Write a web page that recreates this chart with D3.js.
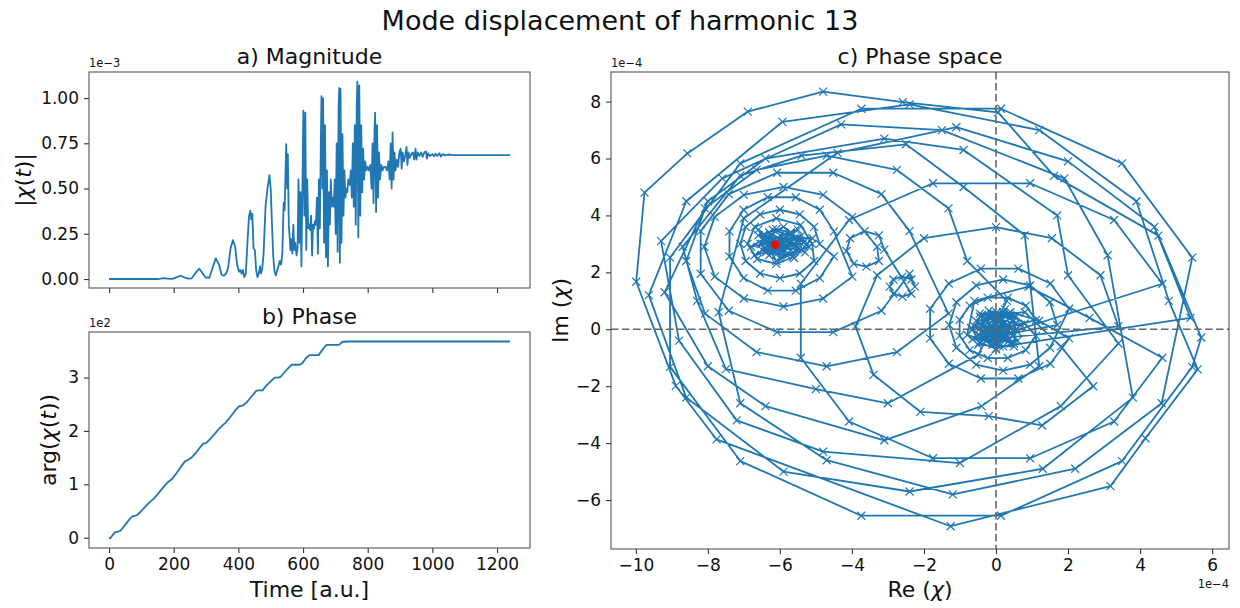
<!DOCTYPE html>
<html>
<head>
<meta charset="utf-8">
<script src="https://cdn.jsdelivr.net/npm/d3@7"></script>
<style>
body { margin: 0; background: #fff; }
svg { display: block; font-family: "DejaVu Sans", sans-serif; }
</style>
</head>
<body>
<svg id="fig" width="1240" height="608"></svg>
<script>
// |chi(t)| in units of 1e-3
var magSeries = [[0,0],[150,0],[160,0.002],[170,0.005],[180,0.002],[195,0.001],[210,0.01],[222,0.018],[234,0.008],[245,0.002],
    [255,0.003],[268,0.035],[279,0.057],[290,0.03],[300,0.006],[305,0.01],[310,0.006],[318,0.05],[330,0.114],[340,0.08],
    [348,0.025],[355,0.018],[362,0.03],[368,0.06],[376,0.17],[383,0.215],[390,0.18],[396,0.08],[402,0.04],[406,0.05],
    [410,0.03],[414,0.05],[418,0.01],[423,0.03],[428,0.2],[433,0.35],[437,0.377],[440,0.33],[443,0.36],[447,0.17],
    [451,0.16],[455,0.05],[459,0.01],[463,0.03],[467,0.07],[470,0.03],[474,0.06],[478,0.14],[484,0.4],[490,0.5],
    [496,0.574],[500,0.5],[504,0.3],[508,0.12],[512,0.04],[516,0.02],[520,0.05],[524,0.07],[528,0.1],[532,0.08],
    [536,0.14],[540,0.42],[543,0.38],[546,0.6],[548,0.745],[551,0.5],[553,0.69],[556,0.3],[558,0.25],[561,0.16],
    [564,0.22],[567,0.14],[570,0.3],[573,0.16],[576,0.2],[580,0.13],[583,0.17],[586,0.55],[589,0.2],[592,0.48],
    [595,0.07],[598,0.5],[601,0.93],[604,0.35],[607,0.92],[610,0.16],[613,0.55],[616,0.28],[619,0.3],[622,0.27],
    [625,0.35],[628,0.13],[631,0.3],[634,0.28],[637,0.32],[640,0.3],[643,0.45],[646,0.14],[649,0.55],[652,0.28],
    [655,0.75],[657,1.01],[660,0.5],[662,1.0],[665,0.2],[668,0.85],[671,0.12],[674,0.6],[677,0.07],[680,0.48],
    [683,0.3],[686,0.55],[689,0.4],[692,0.45],[695,0.4],[698,0.55],[701,0.25],[704,0.75],[707,0.15],[710,0.95],
    [712,1.056],[714,0.09],[716,1.05],[719,0.2],[722,0.8],[725,0.35],[728,0.6],[731,0.45],[734,0.5],[737,0.48],
    [740,0.55],[744,0.52],[748,0.6],[751,0.45],[754,0.75],[757,0.4],[760,0.85],[763,0.3],[766,0.95],[768,1.09],
    [771,0.23],[774,1.07],[777,0.35],[780,0.85],[783,0.48],[786,0.72],[789,0.55],[792,0.65],[796,0.6],[800,0.62],
    [804,0.6],[808,0.63],[812,0.5],[815,0.75],[818,0.42],[821,0.82],[823,0.92],[826,0.37],[829,0.85],[832,0.45],
    [835,0.7],[838,0.55],[842,0.63],[846,0.6],[850,0.62],[855,0.62],[860,0.6],[864,0.65],[868,0.55],[871,0.75],
    [874,0.5],[877,0.81],[880,0.55],[883,0.7],[886,0.6],[890,0.66],[894,0.62],[898,0.7],[902,0.72],[905,0.61],
    [908,0.7],[912,0.65],[916,0.68],[920,0.73],[923,0.63],[926,0.7],[930,0.67],[935,0.69],[940,0.7],[944,0.66],
    [948,0.72],[951,0.66],[955,0.7],[960,0.68],[965,0.7],[970,0.675],[975,0.7],[980,0.705],[983,0.665],[987,0.695],
    [992,0.68],[1000,0.69],[1005,0.678],[1010,0.692],[1015,0.68],[1022,0.695],[1026,0.676],[1032,0.69],[1040,0.683],
    [1050,0.688],[1065,0.685],[1240,0.685]];

// arg(chi(t)) in units of 1e2
var phaseSeries = [[0,0],[4,-0.01],[10,0.04],[18,0.1],[25,0.11],[35,0.13],[50,0.24],[65,0.36],[72,0.4],[80,0.41],
    [88,0.43],[100,0.5],[115,0.6],[128,0.68],[140,0.74],[155,0.85],[170,0.96],[182,1.04],[195,1.1],[210,1.22],
    [225,1.35],[235,1.43],[245,1.46],[255,1.5],[270,1.6],[285,1.72],[292,1.76],[300,1.77],[310,1.83],[325,1.93],
    [340,2.04],[350,2.1],[360,2.15],[375,2.26],[390,2.38],[402,2.46],[415,2.48],[425,2.53],[440,2.64],[455,2.75],
    [462,2.76],[475,2.76],[485,2.84],[500,2.93],[512,3.0],[522,3.0],[530,3.01],[540,3.08],[555,3.18],[565,3.24],
    [575,3.24],[590,3.24],[598,3.27],[610,3.37],[620,3.42],[635,3.42],[648,3.42],[655,3.48],[665,3.56],[673,3.61],
    [690,3.61],[710,3.61],[715,3.63],[722,3.67],[740,3.675],[800,3.675],[1240,3.675]];

// Re/Im of chi in units of 1e-4, in time order
var chiPath = [
    [0,0],[0.07,0.07],[0,0.15],[-0.14,0.14],[-0.22,0],[-0.18,-0.18],[0,-0.28],[0.21,-0.21],[0.33,0],[0.25,0.25],
    [0,0.4],[-0.3,0.3],[-0.45,0.02],[-0.34,-0.34],[0,-0.5],[0.37,-0.37],[0.55,0],[0.41,0.41],[0.02,0.6],[-0.44,0.44],
    [-0.65,0],[-0.47,-0.47],[0,-0.68],[0.5,-0.5],[0.55,0.23],[0.21,0.51],[-0.19,0.46],[-0.42,0.17],[-0.37,-0.15],
    [-0.13,-0.32],[0.11,-0.28],[0.23,-0.1],[0.18,0.08],
    [0.5,0.3],[-0.4,-0.4],[0.2,0.6],[-0.6,0.1],[0.4,-0.5],[-0.2,0.5],[0.6,-0.1],[-0.5,-0.2],[0.1,-0.6],[-0.3,0.4],
    [0.55,0.45],[-0.55,0.3],[0.3,-0.3],[-0.1,-0.55],[0.45,0.1],[-0.35,-0.1],[0.15,0.35],[-0.65,-0.35],[0.6,-0.4],[-0.2,0.65],
    [0.35,0.55],[-0.45,0.55],[0.7,0.15],[-0.7,0.05],[0.0,-0.7],[0.25,0.7],[-0.5,-0.55],[0.5,-0.6],[0.1,0.1],[-0.1,-0.1],
    [1.11,0.33],[0.83,0.83],[0.33,1.11],[-0.23,1.11],[-0.73,0.83],[-1.01,0.33],[-1.01,-0.23],[-0.73,-0.73],
    [-0.23,-1.01],[0.33,-1.01],[0.83,-0.73],[1.11,-0.23],[0.8,0.2],[0.4,0.5],[-0.1,0.45],[-0.35,0.1],[-0.2,-0.25],[0.15,-0.2],
    [1.7,0.15],[1.5,0.95],[0.95,1.54],[0.2,1.75],[-0.55,1.54],[-1.1,0.95],[-1.3,0.15],[-1.1,-0.65],[-0.55,-1.24],
    [0.2,-1.45],[0.95,-1.24],[1.5,-0.65],
    [2.03,0.72],[1.51,1.61],[0.62,2.13],[-0.42,2.13],[-1.31,1.61],[-1.83,0.72],[-1.83,-0.32],[-1.31,-1.21],
    [-0.42,-1.73],[0.62,-1.73],[1.51,-1.21],[2.03,-0.32],[1.2,0.3],[0.4,0.6],[-0.2,0.2],[0.2,-0.3],
    [3.4,0.1],[2.9,1.9],[1.55,3.2],[0,3.59],[-2.0,3.2],[-3.3,1.9],[-3.9,0.1],[-3.4,-1.6],[-2.1,-2.9],[-0.2,-3.05],
    [1.28,-3.38],[2.7,-2.0],[1.8,-0.6],[0.8,0.6],[-0.4,0.5],[-0.3,-0.2],[0.4,-0.1],
    [4.62,1.6],[3.28,3.84],[0.95,5.13],[-1.75,5.13],[-4.08,3.84],[-5.42,1.6],[-5.42,-1.0],[-4.08,-3.24],[-1.75,-4.53],
    [0.95,-4.53],[3.28,-3.24],[4.62,-1.0],[2.6,0.4],[0.9,1.5],[-0.6,1.0],[-0.8,-0.2],[0.2,-0.6],
    [5.4,0.4],[4.4,3.6],[2.0,5.9],[-1.1,7.1],[-4.4,6.2],[-7.0,3.9],[-7.7,0.6],[-7.1,-2.6],[-4.7,-4.6],[-1.2,-5.8],
    [2.2,-4.9],[4.6,-2.6],
    [5.45,2.52],[3.5,5.83],[0.14,7.75],[-3.74,7.75],[-7.1,5.83],[-9.05,2.52],[-9.05,-1.32],[-7.1,-4.63],[-3.74,-6.55],
    [0.14,-6.55],[3.5,-4.63],[5.45,-1.32],
    [5.7,-0.29],[4.51,3.29],[1.61,5.39],[0.06,7.62],[-2.59,7.98],[-4.8,8.35],[-6.89,7.65],[-8.57,6.18],[-9.76,4.8],
    [-9.99,1.67],[-8.89,-1.99],[-7.76,-3.87],[-1.26,-6.92],[3.18,-5.51],[4.15,-3.83],[5.6,-1.41],
    [4.8,1.0],[3.9,4.5],[1.2,7.0],[-2.4,7.9],[-5.93,7.29],[-8.6,4.5],[-9.64,1.2],[-8.6,-2.4],[-5.9,-5.0],[-2.4,-5.7],
    [1.3,-4.9],[3.8,-2.4],
    [3.1,2.6],[1.9,5.3],[-1.5,7.0],[-4.3,7.2],[-7.6,5.3],[-9.3,3.1],[-8.8,-0.4],[-7.2,-3.2],[-4.8,-4.3],
    [-1.0,-4.7],[1.8,-2.7],[3.4,-0.5],
    [2.0,1.9],[1.7,4.0],[-0.9,6.3],[-3.1,6.7],[-6.4,6.0],[-8.0,4.5],[-9.2,1.3],[-8.0,-1.3],[-6.4,-2.7],
    [-3.1,-3.9],[-0.4,-2.7],[1.2,-1.3],
    [0.8,3.3],[-0.9,5.0],[-2.5,6.5],[-5.4,6.1],[-7.1,5.4],[-8.7,2.9],[-8.3,1.0],[-7.5,-1.4],[-5.0,-2.1],
    [-3.0,-2.6],[-0.5,-0.9],[0.3,1.0],
    [-0.8,2.4],[-1.32,4.25],[-2.75,5.6],[-4.7,6.1],[-6.65,5.6],[-8.08,4.25],[-8.6,2.4],[-8.08,0.55],[-6.65,-0.8],
    [-4.7,-1.3],[-2.75,-0.8],[-1.32,0.55],
    [-2.4,3.45],[-3.18,4.75],[-4.52,5.5],[-6.08,5.5],[-7.42,4.75],[-8.2,3.45],[-8.2,1.95],[-7.42,0.65],[-6.08,-0.1],
    [-4.52,-0.1],[-3.18,0.65],[-2.4,1.95],
    [-2.25,1.5],[-2.35,1.75],[-2.6,1.85],[-2.85,1.75],[-2.95,1.5],[-2.85,1.25],[-2.6,1.15],[-2.35,1.25],
    [-3.1,2.8],[-3.25,3.3],[-3.65,3.45],[-4.05,3.2],[-4.15,2.75],[-3.95,2.3],[-3.6,2.2],[-3.25,2.4],[-3.3,2.9],
    [-3.99,3.95],[-4.8,4.72],[-5.9,5.0],[-7.0,4.72],[-7.81,3.95],[-8.1,2.9],[-7.81,1.85],[-7.0,1.08],[-5.9,0.8],
    [-4.8,1.08],[-3.99,1.85],
    [-4.5,3.44],[-4.89,4.2],[-5.56,4.64],[-6.34,4.64],[-7.01,4.2],[-7.4,3.44],[-7.4,2.56],[-7.01,1.8],[-6.34,1.36],
    [-5.56,1.36],[-4.89,1.8],[-4.5,2.56],
    [-4.9,3.0],[-5.05,3.6],[-5.45,4.04],[-6.0,4.2],[-6.55,4.04],[-6.95,3.6],[-7.1,3.0],[-6.95,2.4],[-6.55,1.96],
    [-6.0,1.8],[-5.45,1.96],[-5.05,2.4],
    [-5.1,3.0],[-5.43,3.67],[-6.1,3.9],[-6.7,3.6],[-6.9,3.0],[-6.63,2.47],[-6.1,2.3],[-5.64,2.54],[-5.5,3.0],[-5.7,3.4],
    [-6.1,3.52],[-6.44,3.34],[-6.54,3.0],[-6.38,2.72],[-6.1,2.64],[-5.87,2.77],
    [-5.6,3.2],[-6.4,2.7],[-5.8,2.6],[-6.6,3.3],[-5.3,3.1],[-6.2,3.5],[-6.0,2.5],[-5.5,2.8],[-6.5,3.0],[-5.7,3.4],
    [-6.3,2.6],[-5.4,3.3],[-6.8,2.9],[-5.9,3.6],[-5.2,2.9],[-6.1,2.4],[-6.6,3.5],[-5.6,2.5],[-5.1,3.2],[-6.4,3.2],
    [-5.8,2.9],[-6.7,2.6],[-5.5,3.5],[-6.0,3.3],[-5.3,2.7],[-6.3,3.4],[-5.9,2.7],[-6.5,2.8],[-5.6,3.0],[-6.2,2.8],
    [-5.4,3.0],[-6.0,3.1],[-5.7,2.8],[-6.3,3.0],[-5.9,3.2],[-6.1,2.9],[-5.8,3.1],[-6.2,3.05],[-6.0,2.95],[-6.13,2.97]];
var finalChi = [-6.13, 2.97];

var timeTicks = [0, 200, 400, 600, 800, 1000, 1200];
var magTicks = [0, 0.25, 0.5, 0.75, 1.0];
var phaseTicks = [0, 1, 2, 3];
var reTicks = [-10, -8, -6, -4, -2, 0, 2, 4, 6];
var imTicks = [-6, -4, -2, 0, 2, 4, 6, 8];

var svg = d3.select('#fig');
var blue = '#1f77b4';
var fontFam = '"DejaVu Sans", sans-serif';

svg.append('rect').attr('width', 1240).attr('height', 608).attr('fill', '#fff');

var boxA = {x0: 89, x1: 530, y0: 72, y1: 288};
var boxB = {x0: 89, x1: 530, y0: 332, y1: 548};
var boxC = {x0: 611, x1: 1229, y0: 72, y1: 549};

var xTime = d3.scaleLinear().domain([-62, 1302]).range([boxA.x0, boxA.x1]);
var yMag = d3.scaleLinear().domain([-0.0497, 1.144]).range([boxA.y1, boxA.y0]);
var yPhase = d3.scaleLinear().domain([-0.193, 3.853]).range([boxB.y1, boxB.y0]);
var xRe = d3.scaleLinear().domain([-10.69, 6.47]).range([boxC.x0, boxC.x1]);
var yIm = d3.scaleLinear().domain([-7.72, 9.04]).range([boxC.y1, boxC.y0]);

var defs = svg.append('defs');
function addClip(id, box) {
    defs.append('clipPath').attr('id', id)
        .append('rect')
        .attr('x', box.x0).attr('y', box.y0)
        .attr('width', box.x1 - box.x0).attr('height', box.y1 - box.y0);
}
addClip('clipA', boxA);
addClip('clipB', boxB);
addClip('clipC', boxC);

function styleAxis(g) {
    g.select('.domain').remove();
    g.selectAll('.tick line').attr('stroke', '#333').attr('stroke-width', 1.1);
    g.selectAll('.tick text').attr('font-size', 17).attr('fill', '#111').attr('font-family', fontFam);
}

function drawFrame(box) {
    svg.append('rect')
        .attr('x', box.x0).attr('y', box.y0)
        .attr('width', box.x1 - box.x0).attr('height', box.y1 - box.y0)
        .attr('fill', 'none')
        .attr('stroke', '#555')
        .attr('stroke-width', 1.1);
}

function plainText(x, y, str, size, anchor) {
    svg.append('text')
        .attr('x', x).attr('y', y)
        .attr('font-size', size)
        .attr('font-family', fontFam)
        .attr('text-anchor', anchor || 'middle')
        .attr('fill', '#111')
        .text(str);
}

// parts: [text, italic]
function mathText(x, y, parts, size, rotate) {
    var t = svg.append('text')
        .attr('font-size', size)
        .attr('font-family', fontFam)
        .attr('text-anchor', 'middle')
        .attr('fill', '#111');
    if (rotate) {
        t.attr('transform', 'translate(' + x + ',' + y + ') rotate(-90)');
    } else {
        t.attr('x', x).attr('y', y);
    }
    parts.forEach(p => {
        t.append('tspan').text(p[0]).attr('font-style', p[1] ? 'italic' : 'normal');
    });
}

// ---- panel a: magnitude
svg.append('path')
    .datum(magSeries)
    .attr('clip-path', 'url(#clipA)')
    .attr('fill', 'none')
    .attr('stroke', blue)
    .attr('stroke-width', 1.8)
    .attr('stroke-linejoin', 'round')
    .attr('d', d3.line().x(d => xTime(d[0])).y(d => yMag(d[1])));

svg.append('g')
    .attr('transform', 'translate(' + boxA.x0 + ',0)')
    .call(d3.axisLeft(yMag).tickValues(magTicks).tickFormat(d3.format('.2f')).tickSize(5).tickPadding(5))
    .call(styleAxis);
svg.append('g')
    .attr('transform', 'translate(0,' + boxA.y1 + ')')
    .call(d3.axisBottom(xTime).tickValues(timeTicks).tickFormat('').tickSize(5))
    .call(styleAxis);
drawFrame(boxA);
plainText((boxA.x0 + boxA.x1) / 2, 64, 'a) Magnitude', 22);
plainText(boxA.x0, 67, '1e\u22123', 11.5, 'start');
mathText(31, (boxA.y0 + boxA.y1) / 2, [['|', false], ['\u03c7', true], ['(', false], ['t', true], [')|', false]], 22, true);

// ---- panel b: phase
svg.append('path')
    .datum(phaseSeries)
    .attr('clip-path', 'url(#clipB)')
    .attr('fill', 'none')
    .attr('stroke', blue)
    .attr('stroke-width', 1.8)
    .attr('stroke-linejoin', 'round')
    .attr('d', d3.line().x(d => xTime(d[0])).y(d => yPhase(d[1])));

svg.append('g')
    .attr('transform', 'translate(' + boxB.x0 + ',0)')
    .call(d3.axisLeft(yPhase).tickValues(phaseTicks).tickFormat(d3.format('d')).tickSize(5).tickPadding(5))
    .call(styleAxis);
svg.append('g')
    .attr('transform', 'translate(0,' + boxB.y1 + ')')
    .call(d3.axisBottom(xTime).tickValues(timeTicks).tickFormat(d3.format('d')).tickSize(5).tickPadding(5))
    .call(styleAxis);
drawFrame(boxB);
plainText((boxB.x0 + boxB.x1) / 2, 324, 'b) Phase', 22);
plainText(boxB.x0, 327, '1e2', 11.5, 'start');
plainText((boxB.x0 + boxB.x1) / 2, 597, 'Time [a.u.]', 22);
mathText(56, (boxB.y0 + boxB.y1) / 2, [['arg(', false], ['\u03c7', true], ['(', false], ['t', true], ['))', false]], 22, true);

// ---- panel c: phase space
var gC = svg.append('g').attr('clip-path', 'url(#clipC)');
gC.append('path')
    .datum(chiPath)
    .attr('fill', 'none')
    .attr('stroke', blue)
    .attr('stroke-width', 1.8)
    .attr('stroke-linejoin', 'round')
    .attr('d', d3.line().x(d => xRe(d[0])).y(d => yIm(d[1])));

gC.selectAll()
    .data(chiPath)
    .enter().append('path')
    .attr('d', 'M-4,-4L4,4M-4,4L4,-4')
    .attr('transform', d => 'translate(' + xRe(d[0]) + ',' + yIm(d[1]) + ')')
    .attr('stroke', blue)
    .attr('stroke-width', 1.2)
    .attr('fill', 'none');

gC.append('line')
    .attr('x1', xRe(0)).attr('x2', xRe(0))
    .attr('y1', boxC.y0).attr('y2', boxC.y1)
    .attr('stroke', '#666').attr('stroke-width', 1.6).attr('stroke-dasharray', '7.5,3.5');
gC.append('line')
    .attr('x1', boxC.x0).attr('x2', boxC.x1)
    .attr('y1', yIm(0)).attr('y2', yIm(0))
    .attr('stroke', '#666').attr('stroke-width', 1.6).attr('stroke-dasharray', '7.5,3.5');

gC.append('circle')
    .attr('cx', xRe(finalChi[0]))
    .attr('cy', yIm(finalChi[1]))
    .attr('r', 4.3)
    .attr('fill', 'red');

svg.append('g')
    .attr('transform', 'translate(' + boxC.x0 + ',0)')
    .call(d3.axisLeft(yIm).tickValues(imTicks).tickFormat(d3.format('d')).tickSize(5).tickPadding(5))
    .call(styleAxis);
svg.append('g')
    .attr('transform', 'translate(0,' + boxC.y1 + ')')
    .call(d3.axisBottom(xRe).tickValues(reTicks).tickFormat(d3.format('d')).tickSize(5).tickPadding(5))
    .call(styleAxis);
drawFrame(boxC);
plainText((boxC.x0 + boxC.x1) / 2, 64, 'c) Phase space', 22);
plainText(boxC.x0, 67, '1e\u22124', 11.5, 'start');
plainText(boxC.x1, 588, '1e\u22124', 11.5, 'end');
mathText((boxC.x0 + boxC.x1) / 2, 597, [['Re (', false], ['\u03c7', true], [')', false]], 22, false);
mathText(568, (boxC.y0 + boxC.y1) / 2, [['Im (', false], ['\u03c7', true], [')', false]], 22, true);

// ---- suptitle
plainText(620, 30, 'Mode displacement of harmonic 13', 27);
</script>
</body>
</html>
